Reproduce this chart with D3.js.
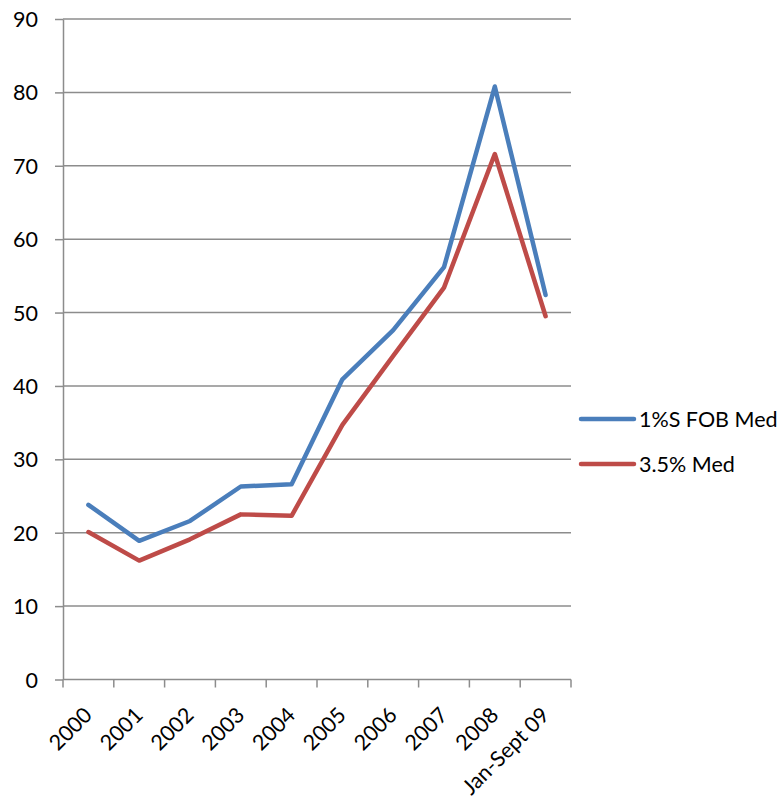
<!DOCTYPE html>
<meta charset="utf-8">
<style>
html, body { margin: 0; padding: 0; background: #fff; }
svg { display: block; }
text { font-family: Lato, "Open Sans", sans-serif; fill: #000; }
.grid line { stroke: #8c8c8c; stroke-width: 1.5px; }
.axis path, .axis line { stroke: #8c8c8c; stroke-width: 1.5px; }
.axis text { font-size: 21.5px; }
.series { fill: none; stroke-width: 4.5px; stroke-linejoin: round; stroke-linecap: round; }
.legend text { font-size: 21.5px; }
</style>
<svg width="782" height="803"></svg>
<script src="https://d3js.org/d3.v7.min.js"></script>
<script>

var categories = ["2000", "2001", "2002", "2003", "2004", "2005", "2006", "2007", "2008", "Jan-Sept 09"];
var fobMed = [23.8, 18.9, 21.6, 26.3, 26.6, 40.9, 47.6, 56.2, 80.8, 52.4];
var med35 = [20.1, 16.2, 19.1, 22.5, 22.3, 34.7, 44.1, 53.4, 71.6, 49.5];
var seriesNames = ["1%S FOB Med", "3.5% Med"];
var seriesColors = ["#4a7ebb", "#be4b48"];
var yTicks = [0, 10, 20, 30, 40, 50, 60, 70, 80, 90];

var svg = d3.select("svg");
var plotLeft = 63, plotRight = 571, plotTop = 19, plotBottom = 679.5;

var x = d3.scaleBand().domain(categories).range([plotLeft, plotRight]);
var y = d3.scaleLinear().domain([0, 90]).range([plotBottom, plotTop]);

// horizontal gridlines
svg.append("g")
    .attr("class", "grid")
  .selectAll("line")
  .data(yTicks.filter(function(d) { return d > 0; }))
  .enter().append("line")
    .attr("x1", plotLeft)
    .attr("x2", plotRight)
    .attr("y1", function(d) { return y(d); })
    .attr("y2", function(d) { return y(d); });

var yAxis = svg.append("g")
    .attr("class", "axis")
    .attr("transform", "translate(" + plotLeft + ",0)")
    .call(d3.axisLeft(y).tickValues(yTicks).tickSize(8).tickSizeOuter(0).tickPadding(17));
yAxis.selectAll("text").attr("dy", "0.35em").attr("fill", "#000");

// x axis with ticks at band edges
var xAxis = svg.append("g")
    .attr("class", "axis")
    .attr("transform", "translate(0," + plotBottom + ")");
xAxis.append("path").attr("d", "M" + plotLeft + ",0H" + plotRight);
xAxis.selectAll("line.tick")
  .data(categories.map(function(c) { return x(c); }).concat([plotRight]))
  .enter().append("line")
    .attr("x1", function(d) { return d; })
    .attr("x2", function(d) { return d; })
    .attr("y1", 0)
    .attr("y2", 8);
xAxis.selectAll("text")
  .data(categories)
  .enter().append("text")
    .attr("text-anchor", "end")
    .attr("transform", function(d) {
      return "translate(" + (x(d) + x.bandwidth() / 2 + 5) + ",37) rotate(-45)";
    })
    .text(function(d) { return d; });

var line = d3.line()
    .x(function(d, i) { return x(categories[i]) + x.bandwidth() / 2; })
    .y(function(d) { return y(d); });

[fobMed, med35].forEach(function(vals, i) {
  svg.append("path")
      .attr("class", "series")
      .attr("stroke", seriesColors[i])
      .attr("d", line(vals));
});

var legend = svg.append("g").attr("class", "legend")
  .selectAll("g")
  .data(seriesNames)
  .enter().append("g")
    .attr("transform", function(d, i) { return "translate(581," + (419 + i * 45) + ")"; });
legend.append("line")
    .attr("x1", 0).attr("x2", 53)
    .attr("stroke", function(d, i) { return seriesColors[i]; })
    .attr("stroke-width", 4.5)
    .attr("stroke-linecap", "round");
legend.append("text")
    .attr("x", 58)
    .attr("dy", "0.35em")
    .text(function(d) { return d; });

</script>
